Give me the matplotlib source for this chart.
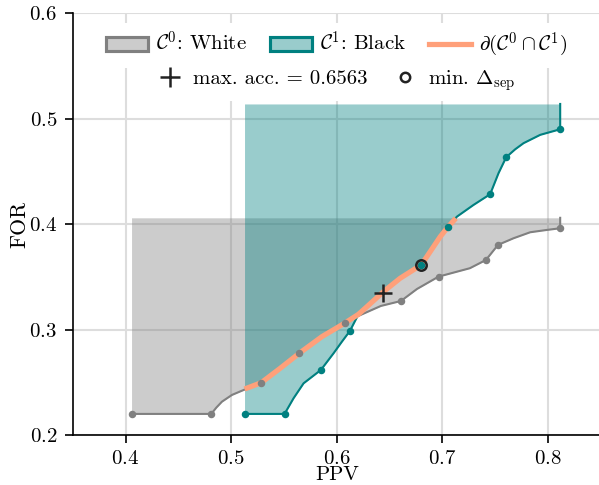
import matplotlib as mlp

mlp.use("agg")
from matplotlib import pyplot as plt
from matplotlib.lines import Line2D
from matplotlib.patches import Patch

# vertices of the two group curves (PPV, FOR)
white_ppv = [0.4057, 0.4812, 0.5285, 0.5645, 0.6074, 0.6608, 0.6964, 0.7413, 0.7527, 0.8116]
white_for = [0.2200, 0.2200, 0.2496, 0.2775, 0.3060, 0.3271, 0.3502, 0.3660, 0.3803, 0.3961]
black_ppv = [0.5127, 0.5506, 0.5850, 0.6125, 0.6800, 0.7056, 0.7453, 0.7605, 0.8116]
black_for = [0.2200, 0.2200, 0.2617, 0.2987, 0.3613, 0.3976, 0.4284, 0.4635, 0.4900]

# traced paths of the curves between the vertices
white_path_ppv = [0.4057, 0.4812, 0.4860, 0.4913, 0.5008, 0.5102, 0.5285, 0.5465, 0.5645, 0.5860,
                  0.6074, 0.6206, 0.6418, 0.6608, 0.6760, 0.6964, 0.7261, 0.7413, 0.7527,
                  0.7674, 0.7832, 0.7990, 0.8116]
white_path_for = [0.2200, 0.2200, 0.2260, 0.2316, 0.2380, 0.2420, 0.2496, 0.2633, 0.2775, 0.2933,
                  0.3060, 0.3130, 0.3224, 0.3271, 0.3385, 0.3502, 0.3582, 0.3660, 0.3803,
                  0.3866, 0.3923, 0.3945, 0.3961]
black_path_ppv = [0.5127, 0.5506, 0.5591, 0.5686, 0.5850, 0.5970, 0.6049, 0.6125, 0.6206,
                  0.6286, 0.6443, 0.6601, 0.6800, 0.6885, 0.6980, 0.7056, 0.7138, 0.7295,
                  0.7453, 0.7532, 0.7605, 0.7690, 0.7769, 0.7927, 0.8116]
black_path_for = [0.2200, 0.2200, 0.2348, 0.2490, 0.2617, 0.2775, 0.2885, 0.2987, 0.3145,
                  0.3217, 0.3360, 0.3487, 0.3613, 0.3739, 0.3881, 0.3976, 0.4071, 0.4182,
                  0.4284, 0.4483, 0.4635, 0.4710, 0.4768, 0.4847, 0.4900]
white_top = 0.406
black_top = 0.514

# boundary of the intersection
bound_ppv = [0.5127, 0.5285, 0.5465, 0.5645, 0.5860, 0.6074, 0.6206, 0.6286, 0.6443,
             0.6601, 0.6800, 0.6885, 0.6980, 0.7056, 0.7128]
bound_for = [0.2436, 0.2496, 0.2633, 0.2775, 0.2933, 0.3060, 0.3145, 0.3217, 0.3360,
             0.3487, 0.3613, 0.3739, 0.3881, 0.3976, 0.4056]

max_acc = 0.6563
max_acc_pt = (0.6435, 0.3346)
min_sep_pt = (0.6800, 0.3613)


def plot():
    plt.rcParams["font.family"] = "serif"
    plt.rcParams["font.serif"] = ["cmr10"]
    plt.rcParams["mathtext.fontset"] = "cm"
    plt.rcParams["axes.formatter.use_mathtext"] = True

    fig = plt.figure(figsize=(599 / 150, 485 / 150), dpi=150)
    ax = fig.add_axes([0.1214, 0.1031, 0.8815, 0.8695])

    gray, teal, salmon = "gray", "teal", "lightsalmon"

    ax.fill_between(white_path_ppv, white_path_for, white_top, color=gray, alpha=0.4, lw=0, zorder=1)
    ax.fill_between(black_path_ppv, black_path_for, black_top, color=teal, alpha=0.4, lw=0, zorder=1.1)

    ax.plot(white_path_ppv + [white_path_ppv[-1]], white_path_for + [white_top], c=gray, lw=1, zorder=2)
    ax.plot(black_path_ppv + [black_path_ppv[-1]], black_path_for + [black_top], c=teal, lw=1, zorder=2)
    ax.plot(bound_ppv, bound_for, c=salmon, lw=2.5, zorder=3, solid_capstyle="butt")

    ax.plot(white_ppv, white_for, ls="none", marker="o", ms=2.6, c=gray, zorder=4)
    ax.plot(black_ppv, black_for, ls="none", marker="o", ms=2.6, c=teal, zorder=4)

    ax.plot(*max_acc_pt, ls="none", marker="+", ms=9, mew=1.2, c="#222222", zorder=5)
    ax.plot(*min_sep_pt, ls="none", marker="o", ms=5, mew=1.2, mec="#222222", mfc="none", zorder=5)

    ax.set_xlim(0.35, 0.85)
    ax.set_ylim(0.2, 0.6)
    ax.set_xticks([0.4, 0.5, 0.6, 0.7, 0.8])
    ax.set_yticks([0.2, 0.3, 0.4, 0.5, 0.6])
    ax.tick_params(labelsize=10, length=4, width=0.8)
    ax.tick_params(axis="x", pad=3)
    ax.grid(True, c="#dddddd", lw=1, zorder=0)
    ax.set_axisbelow(True)
    for s in ["top", "right"]:
        ax.spines[s].set_visible(False)
    ax.set_xlabel("PPV", fontsize=10, labelpad=-0.5)
    ax.set_ylabel("FOR", fontsize=10.5, labelpad=0)

    h1 = [
        Patch(facecolor="#cccccc", edgecolor=gray, lw=1.5),
        Patch(facecolor="#99cccc", edgecolor=teal, lw=1.5),
        Line2D([], [], c=salmon, lw=2.5),
    ]
    l1 = [r"$\mathcal{C}^0$: White", r"$\mathcal{C}^1$: Black",
          r"$\partial(\mathcal{C}^0 \cap \mathcal{C}^1)$"]
    leg1 = ax.legend(h1, l1, loc="upper center", bbox_to_anchor=(0.5, 1.0), ncol=3,
                     fontsize=10, frameon=True, framealpha=1, edgecolor="none",
                     handletextpad=0.4, columnspacing=1.1, borderaxespad=0.45)
    ax.add_artist(leg1)

    h2 = [
        Line2D([], [], ls="none", marker="+", ms=10, mew=1.2, c="#222222"),
        Line2D([], [], ls="none", marker="o", ms=4.5, mew=1.2, mec="#222222", mfc="none"),
    ]
    l2 = [r"max. acc. = %.4f" % max_acc, r"min. $\Delta_{\rm sep}$"]
    ax.legend(h2, l2, loc="upper center", bbox_to_anchor=(0.5, 0.905), ncol=2,
              fontsize=10, frameon=True, framealpha=1, edgecolor="none",
              handlelength=1.2, handletextpad=0.5, columnspacing=1.2, borderaxespad=0.3)
    return fig


if __name__ == "__main__":
    fig = plot()
    fig.savefig("out.png", dpi=150)
